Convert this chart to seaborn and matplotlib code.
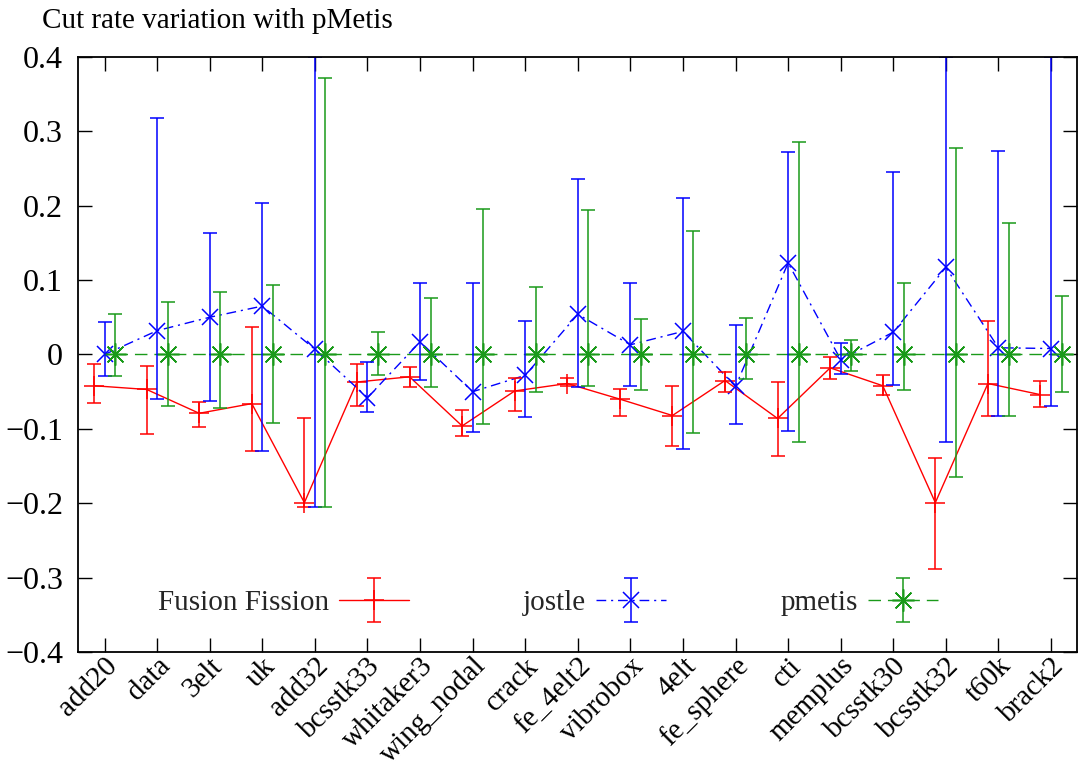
### Imports of the program
import matplotlib
matplotlib.use('Agg')
import matplotlib.pyplot as plt
from matplotlib.container import ErrorbarContainer
from matplotlib.legend_handler import HandlerTuple, HandlerErrorbar
from matplotlib.transforms import ScaledTranslation
import numpy as np
import pandas as pd
import seaborn as sns

### Data
graphs = ['add20', 'data', '3elt', 'uk', 'add32', 'bcsstk33', 'whitaker3',
          'wing_nodal', 'crack', 'fe_4elt2', 'vibrobox', '4elt', 'fe_sphere',
          'cti', 'memplus', 'bcsstk30', 'bcsstk32', 't60k', 'brack2']

ff_val = [-0.042, -0.047, -0.079, -0.066, -0.199, -0.037, -0.030, -0.096, -0.049, -0.039,
          -0.060, -0.082, -0.035, -0.086, -0.018, -0.042, -0.199, -0.039, -0.054]
ff_low = [-0.065, -0.107, -0.098, -0.130, -0.205, -0.069, -0.044, -0.109, -0.076, -0.043,
          -0.083, -0.123, -0.051, -0.137, -0.033, -0.055, -0.288, -0.082, -0.070]
ff_high = [-0.013, -0.016, -0.064, 0.037, -0.085, -0.013, -0.017, -0.075, -0.031, -0.031,
           -0.046, -0.043, -0.024, -0.037, -0.004, -0.028, -0.139, 0.045, -0.036]

jostle_val = [0.000, 0.032, 0.050, 0.065, 0.007, -0.058, 0.017, -0.050, -0.028, 0.054,
              0.013, 0.031, -0.043, 0.123, -0.007, 0.030, 0.117, 0.009, 0.008]
jostle_low = [-0.029, -0.060, -0.063, -0.129, -0.205, -0.077, -0.034, -0.104, -0.084, -0.044,
              -0.042, -0.127, -0.093, -0.103, -0.026, -0.041, -0.117, -0.082, -0.069]
jostle_high = [0.044, 0.317, 0.163, 0.203, 0.400, -0.010, 0.096, 0.096, 0.045, 0.236,
               0.096, 0.210, 0.040, 0.272, 0.015, 0.245, 0.400, 0.273, 0.400]

pmetis_val = [0.0, 0.0, 0.0, 0.0, 0.0, 0.0, 0.0, 0.0, 0.0, 0.0,
              0.0, 0.0, 0.0, 0.0, 0.0, 0.0, 0.0, 0.0, 0.0]
pmetis_low = [-0.029, -0.069, -0.072, -0.092, -0.205, -0.028, -0.044, -0.094, -0.051, -0.042,
              -0.048, -0.105, -0.033, -0.118, -0.022, -0.048, -0.165, -0.082, -0.050]
pmetis_high = [0.054, 0.070, 0.084, 0.093, 0.372, 0.030, 0.076, 0.195, 0.091, 0.194,
               0.047, 0.166, 0.049, 0.285, 0.020, 0.096, 0.278, 0.177, 0.078]

methods = ['Fusion Fission', 'jostle', 'pmetis']
y_ticks = [-0.4, -0.3, -0.2, -0.1, 0.0, 0.1, 0.2, 0.3, 0.4]
y_labels = ['\u22120.4', '\u22120.3', '\u22120.2', '\u22120.1', '0', '0.1', '0.2', '0.3', '0.4']
title = 'Cut rate variation with pMetis'


def main():
    """
    Builds the error bar chart and saves it as out.png
    :return: None
    """
    sns.set_theme(style='ticks')
    plt.rcParams['font.family'] = ['Liberation Serif', 'DejaVu Serif']
    plt.rcParams['lines.scale_dashes'] = False

    colors = {'Fusion Fission': '#ff0000', 'jostle': '#0000ff', 'pmetis': '#1a9a1a'}
    offsets = {'Fusion Fission': -0.2, 'jostle': 0.0, 'pmetis': 0.2}
    series = {'Fusion Fission': (ff_val, ff_low, ff_high),
              'jostle': (jostle_val, jostle_low, jostle_high),
              'pmetis': (pmetis_val, pmetis_low, pmetis_high)}

    ## long table for seaborn
    frames = []
    for m in methods:
        val, low, high = series[m]
        frames.append(pd.DataFrame({'x': np.arange(len(graphs)) + offsets[m],
                                    'y': val, 'low': low, 'high': high, 'method': m}))
    data = pd.concat(frames, ignore_index=True)

    fig = plt.figure(figsize=(10.8, 7.68), dpi=100)
    ax = fig.add_axes([0.0725, 0.1507, 0.925, 0.7755])

    sns.lineplot(data=data, x='x', y='y', hue='method', style='method',
                 hue_order=methods, style_order=methods, palette=colors,
                 markers={'Fusion Fission': '+', 'jostle': 'x', 'pmetis': (8, 2, 0)},
                 dashes={'Fusion Fission': '', 'jostle': (7, 3.5, 1.5, 3.5), 'pmetis': (9, 5)},
                 markersize=12, linewidth=1.0, estimator=None, sort=False,
                 legend=False, ax=ax)
    lines = list(ax.get_lines())
    for ln, ms in zip(lines, [14, 12, 16]):
        ln.set_markeredgecolor(ln.get_color())
        ln.set_markeredgewidth(1.1)
        ln.set_markersize(ms)

    ## error bars on top of the lines
    bars = []
    for m in methods:
        d = data[data['method'] == m]
        eb = ax.errorbar(d['x'], d['y'], yerr=[d['y'] - d['low'], d['high'] - d['y']],
                         fmt='none', ecolor=colors[m], elinewidth=1.1,
                         capsize=5.3, capthick=1.1)
        bars.append(eb)

    ax.set_xlim(-0.5, 18.5)
    ax.set_ylim(-0.4, 0.4)
    ax.set_xticks(np.arange(len(graphs)))
    ax.set_xticklabels(graphs, rotation=45, ha='right', va='center', rotation_mode='anchor')
    ax.set_yticks(y_ticks)
    ax.set_yticklabels(y_labels)
    ax.set_xlabel('')
    ax.set_ylabel('')
    ax.tick_params(axis='both', which='major', direction='in', length=10, width=1,
                   top=True, right=True, colors='black', labelsize=21)
    ax.tick_params(axis='x', pad=7)
    ax.tick_params(axis='y', pad=11, labelsize=23)
    for lbl in ax.get_xticklabels():
        lbl.set_transform(lbl.get_transform() + ScaledTranslation(0.09, 0, fig.dpi_scale_trans))
    for sp in ax.spines.values():
        sp.set_color('black')
        sp.set_linewidth(1.3)

    ## legend like the gnuplot key: text first, sample after
    handles = [(lines[i], bars[i]) for i in range(3)]
    ax.legend(handles, methods, loc='center', bbox_to_anchor=(0.47, 0.083), ncol=3,
              frameon=False, fontsize=21, markerfirst=False, handlelength=2.4,
              handletextpad=0.35, columnspacing=3.9,
              handler_map={tuple: HandlerTuple(ndivide=1, pad=0),
                           ErrorbarContainer: HandlerErrorbar(yerr_size=0.75)})

    fig.text(42 / 1080, 1 - 28.3 / 768, title, ha='left', va='baseline',
             fontsize=21, color='black')

    fig.savefig('out.png', dpi=100)


### Runs the main function
if __name__ == '__main__':
    main()
